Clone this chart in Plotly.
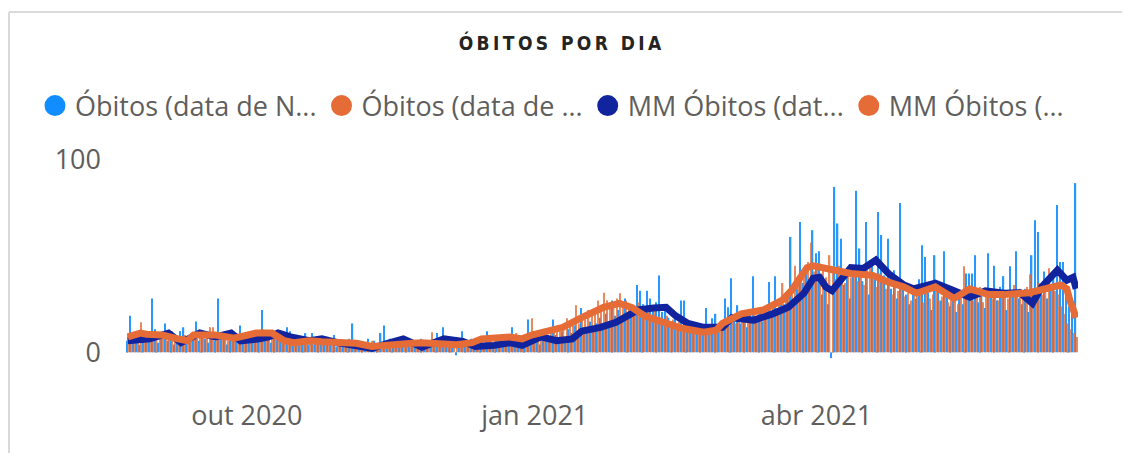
import plotly.graph_objects as go
import pandas as pd

# ---------------- data ----------------
start_date = "2020-08-24"

obitos_notif = [  # Óbitos (data de Notificação) - blue bars, daily
    6, 19, 5, 7, 4, 8, 6, 9, 28, 12,
    5, 7, 15, 6, 8, 4, 9, 11, 13, 7,
    5, 8, 16, 6, 9, 7, 5, 8, 6, 28,
    7, 9, 4, 8, 6, 10, 14, 7, 5, 9,
    8, 6, 10, 22, 9, 7, 5, 8, 10, 6,
    9, 13, 11, 7, 5, 8, 6, 10, 4, 10,
    7, 5, 6, 4, 8, 5, 9, 3, 6, 4,
    5, 7, 15, 4, 6, 3, 5, 7, 4, 6,
    3, 10, 14, 5, 7, 4, 6, 3, 8, 5,
    4, 6, 3, 5, 7, 2, 4, 6, 3, 10,
    5, 13, 4, 6, 3, -1.5, 5, 11, 4, 6,
    7, 3, 5, 8, 4, 11, 6, 3, 7, 5,
    4, 6, 8, 13, 5, 3, 7, 9, 17, 6,
    5, 8, 4, 7, 10, 6, 17, 9, 8, 11,
    7, 12, 10, 14, 9, 23, 13, 11, 16, 12,
    15, 18, 14, 20, 16, 27, 19, 22, 17, 28,
    21, 24, 20, 35, 32, 25, 32, 28, 22, 26,
    40, 21, 23, 18, 16, 20, 14, 27, 27, 12,
    15, 11, 13, 10, 14, 23, 12, 17.7, 20, 11,
    14, 28, 23.4, 38.5, 16, 24.5, 15, 18, 13, 20,
    39.6, 17, 21, 16, 23, 36.5, 19, 39.6, 22, 27,
    25, 30, 60, 28, 33, 67.7, 36, 42, 35, 63.5,
    51.5, 52.6, 30, 38, 25, -3, 86, 67, 59, 35,
    40, 28, 44, 84, 54, 37, 67.7, 30, 45, 38,
    73, 61, 40, 59, 33, 42.7, 28, 77.6, 36, 30,
    25, 34, 28, 38, 55.7, 49.5, 31, 22, 50.5, 35,
    27, 52.6, 30, 24, 33, 21, 29, 25, 41, 41,
    41, 50.5, 26, 32, 23, 51.5, 30, 45, 27, 34,
    39.6, 22, 44.8, 30, 52.6, 28, 25, 33, 21, 50.5,
    68.7, 62.5, 30, 42, 28, 35, 40, 76.6, 47, 47,
    30, 24, 20, 88,
]

obitos_obito = [  # Óbitos (data de Óbito) - orange bars, daily
    9, 8, 10, 7, 15.6, 9, 8, 11, 7, 9,
    10, 8, 9, 7, 11, 8, 6, 7, 9, 5,
    8, 10, 7, 9, 11, 8, 13, 13, 9, 7,
    8, 10, 6, 9, 7, 8, 10, 6, 9, 8,
    11, 9, 10, 12, 8, 11, 10, 9, 7, 6,
    5, 7, 4, 6, 5, 7, 6, 5, 8, 4,
    6, 5, 7, 4, 5, 6, 3, 5, 4, 6,
    4, 5, 3, 6, 4, 5, 3, 4, 6, 3,
    4, 3, 5, 4, 2, 4, 3, 5, 4, 3,
    5, 4, 6, 3, 5, 4, 6, 10.4, 5, 4,
    6, 3, 5, 4, 3, 5, 4, 6, 3, 5,
    6, 5, 7, 8, 6, 7, 8, 6, 9, 7,
    8, 7, 9, 6, 10, 8, 7, 9, 8, 17.7,
    9, 10, 11.5, 12, 9, 11, 13, 12, 14, 13,
    17.7, 14, 16, 24.5, 15, 18, 17, 22, 19, 21,
    27, 22, 31, 27, 26, 24, 28, 30.7, 25, 27,
    23, 24.5, 22, 26, 20, 24, 21, 19, 22, 17,
    18, 16, 19, 15, 17, 14, 16, 13, 15, 12,
    14, 11, 13, 12, 10, 14, 11, 13, 12, 15,
    13, 16, 14, 18, 15, 17, 19, 16, 20, 18,
    22, 19, 21, 20, 24, 22, 26, 23, 27, 36,
    28, 32, 30, 45, 38, 40, 44, 47, 57, 42,
    46, 40, 44, 39, 50.5, 43, 38, 45, 41, 36,
    44, 39, 42, 37, 40, 35, 43, 48, 38, 34,
    41, 36, 33, 38, 30, 35, 32, 34, 29, 31,
    27, 32, 29, 31, 26, 33, 28, 30, 35, 27,
    29, 31, 26, 28, 33, 25, 30, 44.8, 28, 32,
    27, 30, 34, 26, 29, 31, 28, 33, 27, 30,
    32, 28, 31, 35, 29, 33, 30, 34, 40.6, 31,
    33, 36, 30, 38, 43.7, 35, 32, 30, 24, 20,
    15, 12, 10, 8,
]

# moving averages, read at selected days (day offset from start_date)
mm_notif_day = [0, 7, 13, 17, 23, 28, 33, 36, 42, 45, 48, 52, 58, 62, 67, 78, 83, 88,
                94, 101, 107, 111, 117, 122, 126, 132, 137, 142, 145, 151, 156, 160,
                163, 168, 172, 175, 179, 184, 188, 190, 193, 200, 206, 211, 216, 219,
                221, 223, 225, 227, 231, 235, 239, 243, 248, 251, 258, 264, 269, 274,
                280, 285, 289, 292, 297, 300, 302, 303]
mm_notif = [6, 7, 10, 5, 10, 8, 10, 6, 7, 8, 10, 8, 6, 7, 5, 2, 4.7, 7,
            2.6, 7, 5.7, 3, 3.6, 5, 3.6, 8, 6, 7, 11, 13, 15.6, 19,
            22, 23, 23.4, 19, 15, 13, 13, 13, 18, 16.7, 20, 23.4, 30.7, 38.5,
            39, 34, 32, 36, 44, 43.6, 48, 41, 35, 33, 36, 32, 28.6, 32,
            30.7, 31, 25.5, 34, 42.7, 37.5, 39, 33]

mm_obito_day = [0, 4, 6, 11, 16, 19, 21, 28, 34, 41, 46, 50, 53, 58, 62, 73, 78, 83,
                91, 94, 97, 105, 110, 113, 122, 126, 129, 132, 139, 145, 152, 157,
                161, 165, 171, 177, 184, 188, 190, 196, 203, 209, 212, 217, 219, 225,
                231, 238, 243, 248, 252, 258, 264, 269, 275, 280, 288, 298, 300, 301, 303]
mm_obito = [8, 10, 9.4, 9, 7, 6, 9, 9, 7.3, 10, 10, 6, 5, 6, 5.5, 4.7, 3, 4,
            4.7, 5, 4.7, 4, 5, 7, 8, 7, 9, 10, 13, 18, 23.4, 25.5,
            23.4, 19, 15.6, 12.5, 10.4, 11.5, 15, 20, 22, 27, 32, 44, 45, 42.7,
            41, 40, 36.5, 34, 30.7, 34, 28, 33, 30, 30, 31, 35, 33, 27, 18]

tick_dates = ["2020-10-01", "2021-01-01", "2021-04-01"]
tick_labels = ["out 2020", "jan 2021", "abr 2021"]

legend_names = ["Óbitos (data de N...", "Óbitos (data de ...",
                "MM Óbitos (dat...", "MM Óbitos (..."]

title_text = "ÓBITOS POR DIA"

# ---------------- styling ----------------
BLUE = "#118DFF"
DARK = "#12239E"
ORANGE = "#E66C37"
GREY = "#605E5C"
FONT = "Segoe UI, Open Sans, Noto Sans, sans-serif"

# the page body adds an 8px offset; the figure is sized to fit the window
W, H = 1122, 445
ML, MR, MT, MB = 118, 52, 152, 93
pw = W - ML - MR
ph = H - MT - MB

dates = pd.date_range(start_date, periods=len(obitos_notif), freq="D")
start = pd.Timestamp(start_date)
mm_notif_x = [start + pd.Timedelta(days=d) for d in mm_notif_day]
mm_obito_x = [start + pd.Timedelta(days=d) for d in mm_obito_day]

fig = go.Figure()
fig.add_trace(go.Bar(x=dates, y=obitos_notif, marker=dict(color=BLUE, line=dict(width=0)),
                     opacity=0.9, name=legend_names[0], showlegend=False))
fig.add_trace(go.Bar(x=dates, y=obitos_obito, marker=dict(color=ORANGE, line=dict(width=0)),
                     opacity=0.8, name=legend_names[1], showlegend=False))
fig.add_trace(go.Scatter(x=mm_notif_x, y=mm_notif, mode="lines",
                         line=dict(color=DARK, width=7), name=legend_names[2],
                         showlegend=False))
fig.add_trace(go.Scatter(x=mm_obito_x, y=mm_obito, mode="lines",
                         line=dict(color=ORANGE, width=7), name=legend_names[3],
                         showlegend=False))

# legend entries with round markers (as in the original visual)
for nm, col in zip(legend_names, [BLUE, ORANGE, DARK, ORANGE]):
    fig.add_trace(go.Scatter(x=[None], y=[None], mode="markers", name=nm,
                             marker=dict(color=col, size=22, symbol="circle",
                                         line=dict(color=col, width=5))))

x0 = start - pd.Timedelta(hours=14)
x1 = dates[-1] + pd.Timedelta(hours=14)

spaced_title = "\u2009".join(title_text)

fig.update_layout(
    width=W, height=H,
    margin=dict(l=ML, r=MR, t=MT, b=MB, autoexpand=False),
    paper_bgcolor="white", plot_bgcolor="white",
    barmode="group", bargap=0.12, bargroupgap=0,
    font=dict(family=FONT, color=GREY, size=27),
    title=dict(text="<b>" + spaced_title + "</b>", x=552 / W, xref="container",
               xanchor="center", y=1 - 35 / H, yref="container", yanchor="middle",
               font=dict(family="DejaVu Sans Condensed, DejaVu Sans", size=19, color="#252423")),
    legend=dict(orientation="h", x=(27 - ML) / pw, xref="paper", xanchor="left",
                y=1 + (MT - 98) / ph, yref="paper", yanchor="middle",
                font=dict(family=FONT, size=27, color=GREY),
                itemsizing="trace", tracegroupgap=0, bgcolor="rgba(0,0,0,0)"),
    xaxis=dict(type="date", range=[x0, x1], tickvals=tick_dates, ticktext=tick_labels,
               showgrid=False, zeroline=False, showline=False, ticks="",
               ticklabelstandoff=37, tickfont=dict(size=27, color=GREY)),
    yaxis=dict(range=[-4, 100], tickvals=[0, 100], ticktext=["0", "100"],
               showgrid=True, gridcolor="#C8C8C8", gridwidth=2, griddash="2px,12.7px",
               zeroline=False, showline=False, ticks="", ticklabelstandoff=24,
               tickfont=dict(size=27, color=GREY)),
)

# visual frame (top and left border of the card)
fx = (1 - ML) / pw
fy_top = 1 + (MT - 4) / ph
fy_bot = -(MB + 5) / ph
fig.add_shape(type="line", xref="paper", yref="paper", x0=fx, x1=1 + MR / pw + 0.01,
              y0=fy_top, y1=fy_top, line=dict(color="#DADADA", width=2))
fig.add_shape(type="line", xref="paper", yref="paper", x0=fx, x1=fx,
              y0=fy_bot, y1=fy_top, line=dict(color="#DADADA", width=2))

fig.write_html("out.html")
